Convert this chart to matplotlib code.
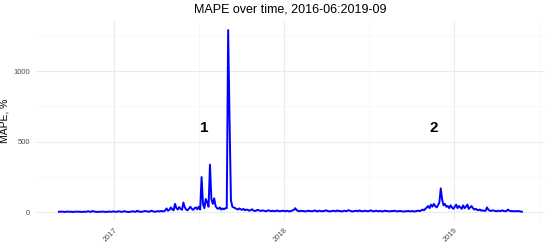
import matplotlib
matplotlib.use("Agg")
import matplotlib.pyplot as plt
import matplotlib.dates as mdates
import pandas as pd

plt.rcParams['font.family'] = ['Liberation Sans', 'DejaVu Sans']

start_date = "2016-09-05"
step_days = 3
mape_values = [
    5,4,6,5,3,4,6,5,4,5,3,4,5,6,4,5,3,4,5,4,
    6,8,5,4,10,6,5,4,3,5,4,6,5,4,3,5,6,4,5,7,
    5,4,6,8,5,4,6,9,5,4,3,5,6,8,5,4,12,6,5,4,
    6,8,10,7,5,6,12,8,6,5,7,9,6,10,8,7,
    14,28,12,18,35,22,15,60,30,20,38,25,18,70,35,20,15,28,40,25,18,30,35,22,
    40,20,250,60,30,95,70,40,338,95,60,100,45,30,25,35,20,28,22,30,30,1290,650,85,40,
    35,30,25,20,28,22,18,25,15,20,18,12,15,22,14,10,12,18,15,10,12,14,10,8,12,15,10,9,12,8,10,14,9,8,10,12,
    10,8,12,9,7,10,14,18,30,15,10,8,12,9,10,7,8,12,10,9,
    8,10,14,9,7,12,10,8,9,11,15,10,8,7,9,12,10,8,14,9,
    10,7,8,12,9,10,16,12,8,7,9,10,12,8,14,9,7,10,12,9,
    8,10,15,9,7,10,12,8,9,10,7,8,12,10,9,7,8,10,9,12,
    8,7,9,10,8,7,6,9,8,10,7,8,9,6,8,10,12,9,14,20,
    15,25,35,45,30,55,40,60,45,35,50,70,170,90,50,60,40,45,30,50,35,25,
    40,55,30,45,35,25,50,30,40,55,25,35,45,30,20,25,18,15,20,12,15,10,12,35,20,12,10,15,
    12,10,8,12,10,9,15,10,8,10,20,12,10,8,9,7,10,8,9,6,5,
]
dates = pd.date_range(start_date, periods=len(mape_values), freq=f"{step_days}D")

title = "MAPE over time, 2016-06:2019-09"
ylabel = "MAPE, %"
y_major = [0, 500, 1000]
y_minor = [250, 750, 1250]
x_major = ["2017-01-01", "2018-01-01", "2019-01-01"]
x_major_labels = ["2017", "2018", "2019"]
x_minor = ["2016-07-02", "2017-07-02", "2018-07-02", "2019-07-02"]
annotations = [("1", "2017-07-13", 596), ("2", "2018-11-18", 596)]

fig = plt.figure(figsize=(5.5, 2.44), dpi=100)
ax = fig.add_axes([0.065, 0.094, 0.926, 0.82])
ax.plot(dates, mape_values, color="#0000FF", linewidth=1.4)
ax.margins(x=0.05, y=0.05)

ax.set_yticks(y_major)
ax.set_yticks(y_minor, minor=True)
xm = [pd.Timestamp(d) for d in x_major]
ax.set_xticks(xm)
ax.set_xticklabels(x_major_labels)
xlim = ax.get_xlim()
ax.set_xticks([pd.Timestamp(d) for d in x_minor], minor=True)
ax.set_xlim(xlim)

ax.grid(True, which="major", color="#EBEBEB", linewidth=0.8)
ax.grid(True, which="minor", color="#F4F4F4", linewidth=0.5)
ax.set_axisbelow(True)
for s in ax.spines.values():
    s.set_visible(False)
ax.tick_params(which="both", length=0)
ax.tick_params(axis="y", labelsize=5.5, labelcolor="#4D4D4D", pad=4)
ax.tick_params(axis="x", labelsize=5.5, labelcolor="#4D4D4D", pad=4)
for lbl in ax.get_xticklabels():
    lbl.set_rotation(45)
    lbl.set_ha("right")
    lbl.set_rotation_mode("anchor")

ax.set_ylabel(ylabel, fontsize=7.5)
ax.yaxis.set_label_coords(-0.052, 0.5)
ax.set_title(title, fontsize=9, pad=6)

for txt, d, v in annotations:
    ax.text(pd.Timestamp(d), v, txt, fontsize=11, fontweight="bold",
            ha="center", va="center", color="black")

fig.savefig("out.png", dpi=100, facecolor="white")
